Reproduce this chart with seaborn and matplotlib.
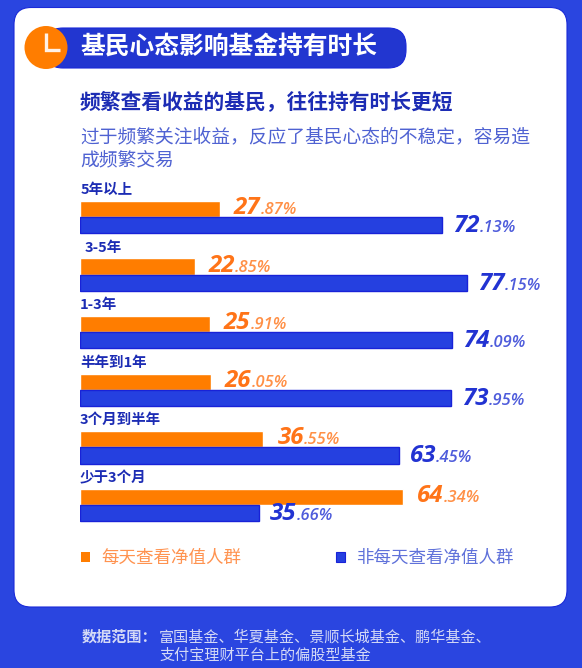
import matplotlib
matplotlib.use('Agg')
import matplotlib.pyplot as plt
from matplotlib.patches import FancyBboxPatch, Circle, Patch
import pandas as pd
import seaborn as sns

# data
durations = ["5年以上", "3-5年", "1-3年", "半年到1年", "3个月到半年", "少于3个月"]
daily = [27.87, 22.85, 25.91, 26.05, 36.55, 64.34]
not_daily = [72.13, 77.15, 74.09, 73.95, 63.45, 35.66]
series_names = ["每天查看净值人群", "非每天查看净值人群"]

title = "基民心态影响基金持有时长"
subtitle = "频繁查看收益的基民，往往持有时长更短"
desc_lines = ["过于频繁关注收益，反应了基民心态的不稳定，容易造", "成频繁交易"]
source_head = "数据范围："
source_lines = ["富国基金、华夏基金、景顺长城基金、鹏华基金、", "支付宝理财平台上的偏股型基金"]

BG_BLUE = "#2a45e0"
BAR_BLUE = "#2540e0"
EDGE_BLUE = "#1822d8"
PILL_BLUE = "#2236d0"
ORANGE = "#ff7d00"
LABEL_ORANGE = "#ff7418"
LABEL_BLUE = "#2233d2"
NAVY = "#1c2cb4"
PX = 72 / 100  # points per pixel at dpi 100

sns.set_theme(style="white")
plt.rcParams['font.family'] = ['Noto Sans CJK SC', 'DejaVu Sans']

W, H = 582, 668
fig = plt.figure(figsize=(W / 100, H / 100), dpi=100, facecolor=BG_BLUE)

# ── background layer, drawn in pixel coordinates ──
bg = fig.add_axes([0, 0, 1, 1], zorder=0)
bg.set_xlim(0, W)
bg.set_ylim(H, 0)
bg.axis("off")

bg.add_patch(FancyBboxPatch((14, 7.5), 553, 599.5, boxstyle="round,pad=0,rounding_size=17",
                            fc="white", ec="#1a2ad8", lw=0.8))
bg.add_patch(FancyBboxPatch((45, 28), 361, 40, boxstyle="round,pad=0,rounding_size=18",
                            fc=PILL_BLUE, ec="#1a28d8", lw=0.8))
bg.add_patch(Circle((46, 47.5), 21.5, fc=ORANGE, ec="none"))
bg.plot([45.5, 45.5, 60], [33, 50, 50], color="white", lw=2.4, solid_joinstyle="miter",
        solid_capstyle="butt", alpha=0.9)

bg.text(80, 47, title, color="white", fontsize=24.8 * PX, fontweight="bold", va="center")
bg.text(80, 103, subtitle, color=NAVY, fontsize=20.8 * PX, fontweight="bold", va="center")
for y, line in zip([138, 161], desc_lines):
    bg.text(80, y, line, color="#4f62d2", fontsize=18.8 * PX, va="center")

bg.text(82, 637, source_head, color="#d4d9f6", fontsize=15.1 * PX, fontweight="bold", va="center")
for y, line in zip([637, 655], source_lines):
    bg.text(159, y, line, color="#d4d9f6", fontsize=15.1 * PX, fontweight="medium", va="center")

# ── bar chart ──
df = pd.DataFrame({
    "duration": durations * 2,
    "share": daily + not_daily,
    "group": [series_names[0]] * len(durations) + [series_names[1]] * len(durations),
})

top, bottom = 188.2, 533.8
ax = fig.add_axes([80 / W, 1 - bottom / H, 502 / W, (bottom - top) / H], zorder=1)
ax.patch.set_alpha(0)
sns.barplot(data=df, y="duration", x="share", hue="group", order=durations,
            hue_order=series_names, palette=[ORANGE, BAR_BLUE], width=0.56,
            gap=0, saturation=1, legend=False, ax=ax)
ax.set_xlim(0, 100)
ax.set_ylim(5.5, -0.5)
ax.set_xlabel("")
ax.set_ylabel("")
ax.set_xticks([])
ax.set_yticks([])
sns.despine(ax=ax, left=True, bottom=True)

for bar in ax.containers[1]:
    bar.set_edgecolor(EDGE_BLUE)
    bar.set_linewidth(1.0)

# value labels: big integer part, small decimals
renderer = fig.canvas.get_renderer()
styles = [(LABEL_ORANGE, 14, 5), (LABEL_BLUE, 11, 7)]
for container, values, (color, dx, dy) in zip(ax.containers, [daily, not_daily], styles):
    for bar, val in zip(container, values):
        whole, frac = f"{val:.2f}".split(".")
        y = bar.get_y() + bar.get_height() / 2
        big = ax.annotate(whole, (val, y), xytext=(dx * PX, -dy * PX), textcoords="offset points",
                          color=color, fontsize=24 * PX, family="Open Sans", style="italic",
                          fontweight="bold", va="baseline", ha="left")
        shift = dx + big.get_window_extent(renderer).width
        ax.annotate(f".{frac}%", (val, y), xytext=(shift * PX, -dy * PX), textcoords="offset points",
                    color=color, fontsize=16.5 * PX, family="Open Sans", style="italic",
                    fontweight="semibold", va="baseline", ha="left", alpha=0.8)

# category labels sit above each pair of bars
label_dx = [1, 5, 0, 0, 0, 0]
for i, name in enumerate(durations):
    ax.annotate(name, (0, i), xytext=(label_dx[i] * PX, 27 * PX), textcoords="offset points",
                color=NAVY, fontsize=14.5 * PX, fontweight="bold", va="center", ha="left")

handles = [Patch(fc=ORANGE, ec="none"), Patch(fc=BAR_BLUE, ec=EDGE_BLUE, lw=0.8)]
leg = ax.legend(handles, series_names, loc="center left", bbox_to_anchor=(80.5 / W, 1 - 558 / H),
                bbox_transform=fig.transFigure, ncols=2, frameon=False,
                fontsize=17.5 * PX, handlelength=0.52, handleheight=0.52, handletextpad=0.66,
                columnspacing=5.4, borderpad=0, borderaxespad=0)
for text, color in zip(leg.get_texts(), ["#ff9350", "#6072da"]):
    text.set_color(color)

fig.savefig("out.png", dpi=100, facecolor=BG_BLUE)
